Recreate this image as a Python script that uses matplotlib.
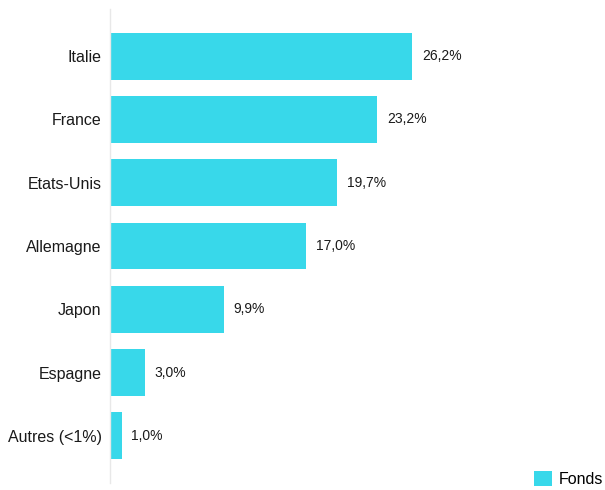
import matplotlib.pyplot as plt
from matplotlib.patches import Patch

# Data
countries = ['Italie', 'France', 'Etats-Unis', 'Allemagne', 'Japon', 'Espagne', 'Autres (<1%)']
fonds = [26.2, 23.2, 19.7, 17.0, 9.9, 3.0, 1.0]
series_name = 'Fonds'

bar_color = '#38d8ea'
plt.rcParams['font.family'] = ['Liberation Sans', 'DejaVu Sans']

fig = plt.figure(figsize=(6.05, 4.9), dpi=100)
ax = fig.add_axes([110 / 605, 7 / 490, 490 / 605, 474 / 490])

pos = list(range(len(countries)))
ax.barh(pos, fonds, height=0.74, color=bar_color)

for y, v in zip(pos, fonds):
    ax.annotate(f'{v:.1f}%'.replace('.', ','), xy=(v, y), xytext=(7, 0),
                textcoords='offset points', va='center', ha='left',
                fontsize=10, color='#1a1a1a')

ax.set_xlim(0, 42.5)
ax.set_ylim(6.745, -0.745)
ax.set_yticks(pos)
ax.set_yticklabels(countries, fontsize=11.5, color='#1a1a1a')
ax.tick_params(axis='y', length=0, pad=6)
ax.set_xticks([])

for side in ['top', 'right', 'bottom']:
    ax.spines[side].set_visible(False)
ax.spines['left'].set_color('#e8e8e8')
ax.spines['left'].set_linewidth(1)

handle = Patch(facecolor=bar_color, edgecolor='none', label=series_name)
fig.legend(handles=[handle], loc='lower right', bbox_to_anchor=(1.003, 0.0),
           frameon=False, fontsize=11.5, handlelength=1.1, handleheight=1.1,
           handletextpad=0.45, borderaxespad=0.1, borderpad=0.1)

fig.savefig('out.png', dpi=100)
